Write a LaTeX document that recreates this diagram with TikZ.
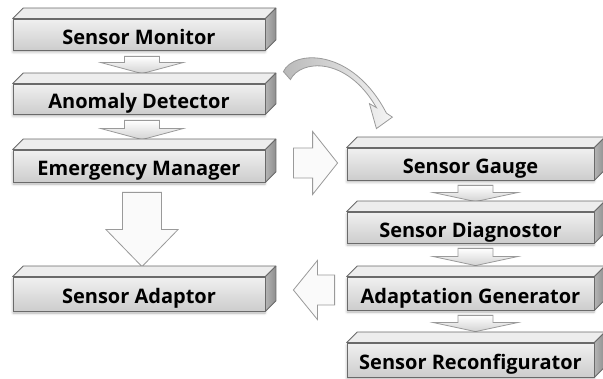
\documentclass[tikz,border=0pt]{standalone}
\usepackage{fontspec}
\setmainfont{Open Sans}
\usetikzlibrary{calc,shadows.blur}
\pgfdeclarelayer{bg}
\pgfsetlayers{bg,main}

\definecolor{boxedge}{HTML}{6A6A6A}
\definecolor{frontTop}{HTML}{F0F0F0}
\definecolor{frontBot}{HTML}{CDCDCD}
\definecolor{topFace}{HTML}{EDEDED}
\definecolor{sideA}{HTML}{B4B4B4}
\definecolor{sideB}{HTML}{8E8E8E}
\definecolor{arrowedge}{HTML}{9A9A9A}

\tikzset{
  x=1pt, y=-1pt,
  stagebox/.style={rectangle, draw=boxedge, line width=0.8pt, inner sep=0pt,
    top color=frontTop, bottom color=frontBot, text=black,
    font=\fontsize{20}{22}\selectfont\bfseries, text height=22pt, text depth=2pt,
    blur shadow={shadow xshift=0pt, shadow yshift=-2pt, shadow blur radius=2.5pt, shadow opacity=30}},
  topface/.style={draw=boxedge, line width=0.8pt, line join=round, fill=topFace},
  sideface/.style={draw=boxedge, line width=0.8pt, line join=round, left color=sideA, right color=sideB},
  flowarrow/.style={draw=arrowedge, line width=0.8pt, line join=miter},
  smallfill/.style={top color=white, bottom color=gray!35},
  bigfill/.style={fill=gray!4},
}

% depth of the bevelled bars
\newcommand\barDepth{10.5pt}

% bevel (top and right faces) for a bar node
\newcommand\bevel[1]{%
  \path[topface] (#1.north west) -- ++(\barDepth,\barDepth) -- ($(#1.north east)+(\barDepth,\barDepth)$) -- (#1.north east) -- cycle;
  \path[sideface] (#1.north east) -- ++(\barDepth,\barDepth) -- ($(#1.south east)+(\barDepth,\barDepth)$) -- (#1.south east) -- cycle;
}

% block arrow from #2 to #3: shaft half width #4, head half width #5, head length #6
\newcommand\blockarrow[6][]{%
  \coordinate (ba-h) at ($(#3)!#6!(#2)$);
  \path[flowarrow,#1] ($(#2)!#4!90:(#3)$) -- ($(ba-h)!#4!-90:(#2)$) -- ($(ba-h)!#5!-90:(#2)$)
    -- (#3) -- ($(ba-h)!#5!90:(#2)$) -- ($(ba-h)!#4!90:(#2)$) -- ($(#2)!#4!-90:(#3)$) -- cycle;
}

\begin{document}
\begin{tikzpicture}
\useasboundingbox (0,0) rectangle (603,379);

% left column
\node[stagebox, minimum width=252pt, minimum height=31pt] (sm) at (139,34.5) {Sensor Monitor};
\node[stagebox, minimum width=252pt, minimum height=30pt] (ad) at (139,99) {Anomaly Detector};
\node[stagebox, minimum width=252pt, minimum height=32pt] (em) at (139,166) {Emergency Manager};
\node[stagebox, minimum width=252pt, minimum height=34pt] (sa) at (139,294) {Sensor Adaptor};

% right column
\node[stagebox, minimum width=247pt, minimum height=32pt] (sg) at (470.5,164) {Sensor Gauge};
\node[stagebox, minimum width=247pt, minimum height=31pt] (sd) at (470.5,227.5) {Sensor Diagnostor};
\node[stagebox, minimum width=247pt, minimum height=33pt] (ag) at (470.5,293.5) {Adaptation Generator};
\node[stagebox, minimum width=247pt, minimum height=34pt] (sr) at (470.5,360) {Sensor Reconfigurator};

\foreach \n in {sm,ad,em,sa,sg,sd,ag,sr} {\bevel{\n}}

% arrow end points
\coordinate (smA) at ($(sm.south)+(3,6)$);   \coordinate (adB) at ($(ad.north)+(3,-10)$);
\coordinate (adA) at ($(ad.south)+(3,6)$);   \coordinate (emB) at ($(em.north)+(3,-10)$);
\coordinate (emA) at ($(em.south)+(3,10)$);  \coordinate (saB) at ($(sa.north)+(3,-10)$);
\coordinate (emR) at ($(em.east)+(28,-3)$);  \coordinate (sgL) at ($(sg.west)+(-9,-1)$);
\coordinate (sgA) at ($(sg.south)+(5,5)$);   \coordinate (sdB) at ($(sd.north)+(5,-10)$);
\coordinate (sdA) at ($(sd.south)+(5,5)$);   \coordinate (agB) at ($(ag.north)+(5,-11)$);
\coordinate (agA) at ($(ag.south)+(5,5)$);   \coordinate (srB) at ($(sr.north)+(5,-11)$);
\coordinate (agL) at ($(ag.west)+(-12,-3.5)$); \coordinate (saR) at ($(sa.east)+(28,-4)$);

\begin{pgfonlayer}{bg}
  % small steps inside each column
  \blockarrow[smallfill]{smA}{adB}{17.5pt}{41pt}{11pt}
  \blockarrow[smallfill]{adA}{emB}{17.5pt}{41pt}{11pt}
  \blockarrow[smallfill]{sgA}{sdB}{17.5pt}{42pt}{9pt}
  \blockarrow[smallfill]{sdA}{agB}{17.5pt}{42pt}{9pt}
  \blockarrow[smallfill]{agA}{srB}{17.5pt}{42pt}{9pt}
  % large transfers
  \blockarrow[bigfill]{emA}{saB}{19.5pt}{36pt}{37pt}
  \blockarrow[bigfill]{emR}{sgL}{15pt}{31.5pt}{25pt}
  \blockarrow[bigfill]{agL}{saR}{15pt}{29.5pt}{24pt}
\end{pgfonlayer}

% curved arrow from the detector over to the gauge
\begin{scope}[shift={(ad.north east)}]
  \path[draw=arrowedge, line width=0.8pt, line join=miter, left color=gray!55, right color=gray!8]
    (18,-12) .. controls (28,-34) and (87,-36) .. (121,29.5)
    -- (127,33.5) -- (111,45) -- (104,20) -- (111,24)
    .. controls (81,-28) and (35,-24) .. (25,-4) -- cycle;
\end{scope}
\end{tikzpicture}
\end{document}
